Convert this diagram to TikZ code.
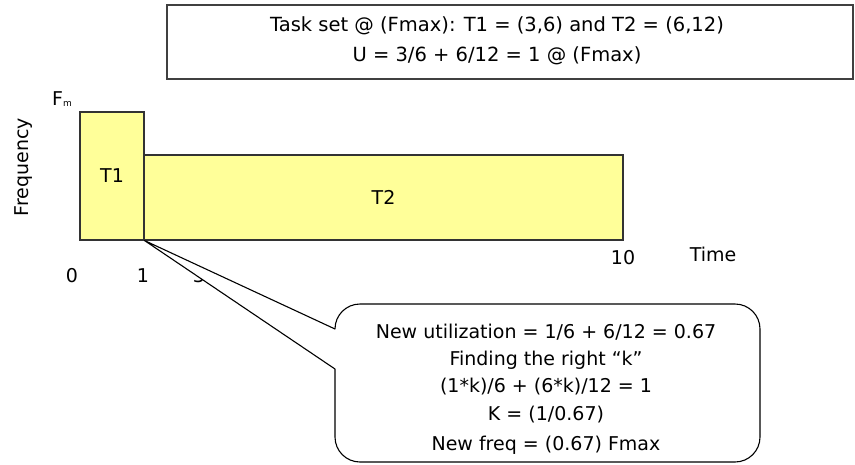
\documentclass[tikz,border=0pt]{standalone}
\usepackage{fontspec}
\setmainfont{DejaVu Sans}
\definecolor{barfill}{HTML}{FFFF99}
\definecolor{framegray}{HTML}{404040}
\begin{document}
\begin{tikzpicture}[x=1pt,y=-1pt,
  bar/.style={draw=black!80, line width=1.1pt, fill=barfill, inner sep=0pt,
              font=\fontsize{19}{21}\selectfont},
  lbl/.style={font=\fontsize{19}{21}\selectfont, inner sep=0pt},
  head/.style={font=\fontsize{19.5}{22}\selectfont, inner sep=0pt, anchor=base},
  note/.style={font=\fontsize{19}{22}\selectfont, inner sep=0pt, anchor=base},
  frame/.style={draw=framegray, line width=1.4pt},
  bubble/.style={draw=black, line width=1.1pt, fill=white, line join=round}]
\useasboundingbox (0,0) rectangle (855,464);

% task set summary
\draw[frame] (167,5) rectangle (853,79);
\node[head] (h1) at (497,31) {Task set @ (Fmax): T1 = (3,6) and T2 = (6,12)};
\node[head] (h2) at (497,61) {U = 3/6 + 6/12 = 1 @ (Fmax)};

% execution bars
\node[bar, minimum width=479pt, minimum height=85pt] (t2) at (383.5,197.5) {T2};
\node[bar, minimum width=64pt, minimum height=128pt] (t1) at (112,176) {T1};

% axis labels
\node[lbl, rotate=90] (freq) at (24,167) {Frequency};
\node[lbl] (fm) at (62,99) {F\raisebox{-1pt}{\fontsize{9}{9}\selectfont m}};
\node[lbl] (x0) at (72,276) {0};
\node[lbl] (x1) at (143,276) {1};
\node[lbl] (x3) at (199,276) {3};
\node[lbl] (x10) at (623,258) {10};
\node[lbl] (time) at (713,254) {Time};

% callout, drawn over the tick label it overlaps
\coordinate (tip) at (t1.south east);
\draw[bubble] (tip) -- (335,329) arc[start angle=-180,end angle=-90,radius=25]
  -- (735,304) arc[start angle=-90,end angle=0,radius=25]
  -- (760,437) arc[start angle=0,end angle=90,radius=25]
  -- (360,462) arc[start angle=90,end angle=180,radius=25]
  -- (335,369) -- cycle;
\node[note] (n1) at (546,338) {New utilization = 1/6 + 6/12 = 0.67};
\node[note] (n2) at (546,365) {Finding the right “k”};
\node[note] (n3) at (546,392) {(1*k)/6 + (6*k)/12 = 1};
\node[note] (n4) at (546,420) {K = (1/0.67)};
\node[note] (n5) at (546,450) {New freq = (0.67) Fmax};
\end{tikzpicture}
\end{document}
